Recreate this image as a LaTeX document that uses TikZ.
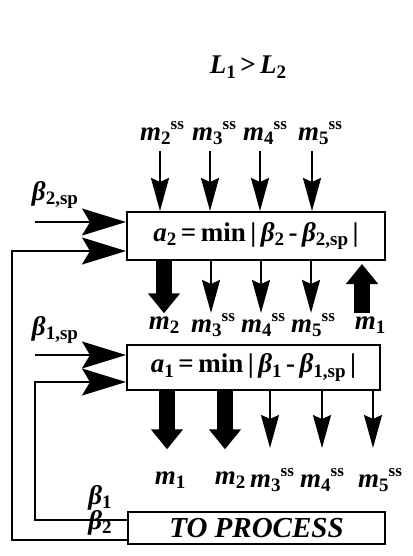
\documentclass[tikz,border=0pt]{standalone}
\usepackage{fontspec}
\setmainfont{Liberation Serif}
\usetikzlibrary{arrows.meta}

\newcommand{\lo}[1]{\raisebox{-0.35ex}{\fontsize{19}{20}\selectfont #1}}
\newcommand{\hi}[1]{\raisebox{0.9ex}{\fontsize{17}{18}\selectfont #1}}
\newcommand{\mi}[1]{\textit{m}\lo{#1}}
\newcommand{\mss}[1]{\textit{m}\lo{#1}\hi{ss}}
\newcommand{\bt}[1]{\textit{β}\lo{#1}}

\tikzset{
  lbl/.style={font=\fontsize{27}{30}\selectfont\bfseries, inner sep=0pt},
  blk/.style={draw, line width=2pt, inner sep=0pt, font=\fontsize{27}{30}\selectfont\bfseries},
  thinarr/.style={line width=2pt, -{Stealth[length=33pt,width=18pt,inset=4pt]}},
  fatarr/.style={line width=16pt, -{Triangle[length=20pt,width=31pt]}},
  feedarr/.style={line width=2pt, -{Stealth[length=44pt,width=27pt,inset=8pt]}}
}

\begin{document}
\begin{tikzpicture}[x=1pt,y=-1pt]
\useasboundingbox (0,0) rectangle (412,556);

% -----------------------
% Titre
% -----------------------
\node[lbl] (title) at (248,67) {\textit{L}\lo{1}\,>\,\textit{L}\lo{2}};

% -----------------------
% Blocs
% -----------------------
\node[blk, minimum width=258pt, minimum height=48pt] (box2) at (256,236)
  {\textit{a}\lo{2}\,=\,min\,|\,\bt{2}\,-\,\bt{2,sp}\,|};
\node[blk, minimum width=253pt, minimum height=45pt] (box1) at (253.5,367.5)
  {\textit{a}\lo{1}\,=\,min\,|\,\bt{1}\,-\,\bt{1,sp}\,|};
\node[blk, minimum width=257pt, minimum height=32pt, font=\fontsize{29}{30}\selectfont\bfseries] (proc) at (256.5,528)
  {\textit{TO PROCESS}};

% -----------------------
% Entrees du bloc 2
% -----------------------
\node[lbl] (t2) at (162,133) {\mss{2}};
\node[lbl] (t3) at (214,133) {\mss{3}};
\node[lbl] (t4) at (265,133) {\mss{4}};
\node[lbl] (t5) at (320,133) {\mss{5}};
\foreach \n/\dx in {t2/-2,t3/-4,t4/-5,t5/-8}
  \draw[thinarr, shorten <=6pt] ([xshift=\dx pt]\n.south) -- ([xshift=\dx pt]\n.south |- box2.north);

% -----------------------
% Sorties du bloc 2
% -----------------------
\node[lbl] (u2) at (164,325) {\mi{2}};
\node[lbl] (u3) at (213,325) {\mss{3}};
\node[lbl] (u4) at (263,325) {\mss{4}};
\node[lbl] (u5) at (313,325) {\mss{5}};
\node[lbl] (u1) at (370,325) {\mi{1}};
\draw[fatarr, shorten >=3pt] (box2.south -| u2) -- (u2.north);
\foreach \n in {u3,u4,u5}
  \draw[thinarr] ([xshift=-2pt]box2.south -| \n) -- ([xshift=-2pt]\n.north);
\draw[fatarr, shorten <=3pt, shorten >=3pt] ([xshift=-8pt]u1.north) -- ([xshift=-8pt]u1.north |- box2.south);

% -----------------------
% Sorties du bloc 1
% -----------------------
\node[lbl] (v1) at (170,480) {\mi{1}};
\node[lbl] (v2) at (230,480) {\mi{2}};
\node[lbl] (v3) at (272,480) {\mss{3}};
\node[lbl] (v4) at (322,480) {\mss{4}};
\node[lbl] (v5) at (380,480) {\mss{5}};
\foreach \n/\dx in {v1/-3,v2/-5}
  \draw[fatarr, shorten >=22pt] ([xshift=\dx pt]box1.south -| \n) -- ([xshift=\dx pt]\n.north);
\foreach \n/\dx in {v3/-2,v4/0,v5/-7}
  \draw[thinarr, shorten >=20pt] ([xshift=\dx pt]box1.south -| \n) -- ([xshift=\dx pt]\n.north);

% -----------------------
% Consignes
% -----------------------
\node[lbl] (sp2) at (55,195) {\bt{2,sp}};
\node[lbl] (sp1) at (55,330) {\bt{1,sp}};
\coordinate (in2) at (35,222);
\coordinate (in1) at (35,355);
\draw[feedarr] (in2) -- (in2 -| box2.west);
\draw[feedarr] (in1) -- (in1 -| box1.west);

% -----------------------
% Retours du procede
% -----------------------
\node[lbl] (b1) at (100,498) {\bt{1}};
\node[lbl] (b2) at (100,523) {\bt{2}};
\coordinate (r1) at (35,520);
\coordinate (k1) at (35,382);
\coordinate (r2) at (12,540);
\coordinate (k2) at (12,251);
\draw[feedarr] (r1 -| proc.west) -- (r1) -- (k1) -- (k1 -| box1.west);
\draw[feedarr] (r2 -| proc.west) -- (r2) -- (k2) -- (k2 -| box2.west);

\end{tikzpicture}
\end{document}
